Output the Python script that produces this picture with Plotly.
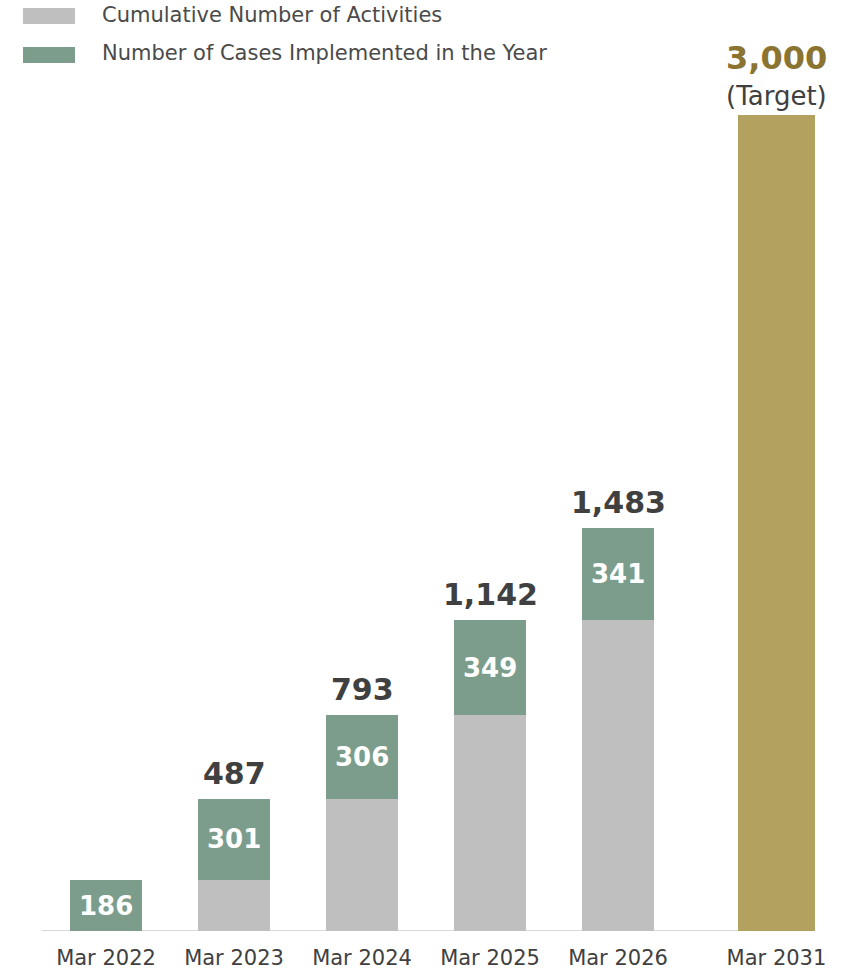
import plotly.graph_objects as go

# Fiscal periods and yearly implemented cases
periods = ["Mar 2022", "Mar 2023", "Mar 2024", "Mar 2025", "Mar 2026"]
yearly_cases = [186, 301, 306, 349, 341]
cumulative_totals = [186, 487, 793, 1142, 1483]
target_period = "Mar 2031"
target_value = 3000

# Cumulative count carried in from earlier years (grey base of each bar)
carried_in = [t - y for t, y in zip(cumulative_totals, yearly_cases)]

FONT = "DejaVu Sans"
GREY = "#BFBFBF"
GREEN = "#7C9D8B"
GOLD = "#B3A160"
DARK = "#404040"

# Slot positions on the x axis: yearly bars evenly spaced, target set further right
slots = list(range(len(periods)))
target_slot = 5.238

fig = go.Figure()
fig.add_trace(go.Bar(
    x=slots, y=carried_in, marker=dict(color=GREY, line_width=0), width=0.57,
    name="Cumulative Number of Activities", showlegend=False,
))
fig.add_trace(go.Bar(
    x=slots, y=yearly_cases, marker=dict(color=GREEN, line_width=0), width=0.57,
    name="Number of Cases Implemented in the Year", showlegend=False,
))
fig.add_trace(go.Bar(
    x=[target_slot], y=[target_value], marker=dict(color=GOLD, line_width=0),
    width=0.60, name="Target", showlegend=False,
))

annotations = []
# Yearly counts inside the green segments
for x, base, val in zip(slots, carried_in, yearly_cases):
    annotations.append(dict(
        x=x, y=base + val / 2, text=f"<b>{val}</b>", showarrow=False,
        font=dict(family=FONT, size=26, color="white"),
    ))
# Cumulative totals above the bars (from the second year on)
for x, tot in list(zip(slots, cumulative_totals))[1:]:
    annotations.append(dict(
        x=x, y=tot, text=f"<b>{tot:,}</b>", showarrow=False,
        yanchor="bottom", yshift=6,
        font=dict(family=FONT, size=30, color=DARK),
    ))
# Target labels
annotations.append(dict(
    x=target_slot, y=target_value, text="(Target)", showarrow=False,
    yanchor="bottom", yshift=2,
    font=dict(family=FONT, size=26, color=DARK),
))
annotations.append(dict(
    x=target_slot, y=target_value, text=f"<b>{target_value:,}</b>", showarrow=False,
    yanchor="bottom", yshift=36,
    font=dict(family=FONT, size=32, color="#8A7430"),
))

# Legend drawn as swatches plus labels
legend_items = [("Cumulative Number of Activities", GREY, 16, 15),
                ("Number of Cases Implemented in the Year", GREEN, 55, 53)]
shapes = []
for label, color, yc, ytext in legend_items:
    shapes.append(dict(
        type="rect", xref="paper", yref="paper",
        x0=23 / 849, x1=75 / 849,
        y0=1 - (yc + 8) / 931, y1=1 - (yc - 8) / 931,
        fillcolor=color, line_width=0,
    ))
    annotations.append(dict(
        xref="paper", yref="paper", x=100 / 849, y=1 - ytext / 931,
        xanchor="left", yanchor="middle", text=label, showarrow=False,
        font=dict(family=FONT, size=21, color="#4A4A4A"),
    ))

# Baseline
shapes.append(dict(
    type="line", xref="x", yref="y", x0=-0.5, x1=target_slot, y0=0, y1=0,
    line=dict(color="#D9D9D9", width=2), layer="below",
))

fig.update_layout(
    width=849, height=972,
    margin=dict(l=0, r=0, t=0, b=41),
    barmode="stack",
    plot_bgcolor="white", paper_bgcolor="white",
    annotations=annotations, shapes=shapes,
    xaxis=dict(
        range=[-106 / 128, -106 / 128 + 849 / 128],
        tickvals=slots + [target_slot], ticktext=periods + [target_period],
        showgrid=False, zeroline=False, showline=False, ticks="",
        ticklabelstandoff=12, automargin=False,
        tickfont=dict(family=FONT, size=21, color=DARK),
        fixedrange=True,
    ),
    yaxis=dict(
        range=[0, 931 / 0.272], visible=False, showgrid=False, zeroline=False,
        fixedrange=True, automargin=False,
    ),
)

fig.write_html("out.html")
